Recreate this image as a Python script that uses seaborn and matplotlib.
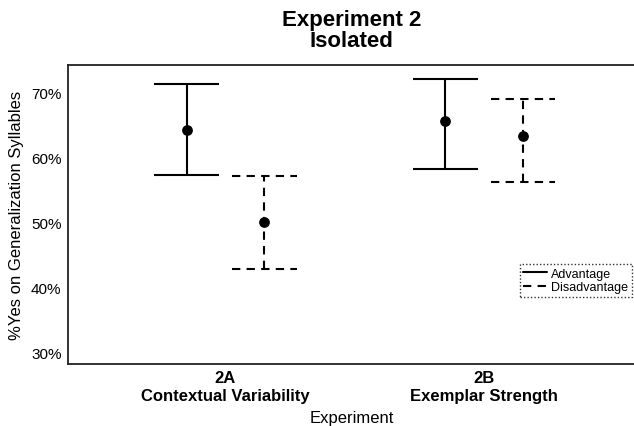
import matplotlib
matplotlib.use("Agg")
import matplotlib.pyplot as plt
from matplotlib.lines import Line2D
import seaborn as sns
import pandas as pd
import numpy as np

experiments = ["2A\nContextual Variability", "2B\nExemplar Strength"]
conditions = ["Advantage", "Disadvantage"]
mean_adv = [64.3, 65.6]
low_adv = [57.3, 58.3]
high_adv = [71.3, 72.2]
mean_dis = [50.0, 63.3]
low_dis = [42.85, 56.3]
high_dis = [57.1, 69.0]
yticks = [30, 40, 50, 60, 70]

sns.set_style("white")
plt.rcParams['font.family'] = ['Liberation Sans', 'DejaVu Sans']
plt.rcParams['text.color'] = 'black'
plt.rcParams['axes.labelcolor'] = 'black'
plt.rcParams['xtick.color'] = '#333333'
plt.rcParams['ytick.color'] = '#333333'
plt.rcParams['xtick.labelcolor'] = 'black'
plt.rcParams['ytick.labelcolor'] = 'black'

rows = []
for i, e in enumerate(experiments):
    rows.append(dict(exp=e, idx=i, cond="Advantage", mean=mean_adv[i], lo=low_adv[i], hi=high_adv[i]))
    rows.append(dict(exp=e, idx=i, cond="Disadvantage", mean=mean_dis[i], lo=low_dis[i], hi=high_dis[i]))
df = pd.DataFrame(rows)
dodge = 0.15
df["x"] = df["idx"] + np.where(df["cond"] == "Advantage", -dodge, dodge)

fig = plt.figure(figsize=(6.34, 4.27), dpi=100)
ax = fig.add_axes([0.107, 0.1452, 0.8955, 0.7002])

styles = {"Advantage": "solid", "Disadvantage": (0, (4, 3))}
capw = 0.125
for _, r in df.iterrows():
    ls = styles[r["cond"]]
    ax.vlines(r["x"], r["lo"], r["hi"], colors="black", linestyles=ls, lw=1.5)
    ax.hlines([r["lo"], r["hi"]], r["x"] - capw, r["x"] + capw, colors="black", linestyles=ls, lw=1.5)

sns.scatterplot(data=df, x="x", y="mean", color="black", s=60, edgecolor="black",
                linewidth=0, ax=ax, legend=False, zorder=5)

ax.set_xlim(-0.6085, 1.585)
ax.set_ylim(28.15, 74.3)
ax.set_xticks(range(len(experiments)))
ax.set_xticklabels(experiments, fontsize=12, fontweight="bold", linespacing=1.2)
ax.set_yticks(yticks)
ax.set_yticklabels([f"{t}%" for t in yticks], fontsize=11)
ax.tick_params(axis="both", direction="out", length=3.5, width=1, pad=1)
ax.set_xlabel("Experiment", fontsize=12, labelpad=5)
ax.set_ylabel("%Yes on Generalization Syllables", fontsize=12, labelpad=5)
ax.set_title("Experiment 2\nIsolated", fontsize=16, fontweight="bold", pad=14, linespacing=1.0)

for s in ["top", "bottom", "left"]:
    ax.spines[s].set_visible(True)
    ax.spines[s].set_color("#222222")
    ax.spines[s].set_linewidth(1.3)
ax.spines["right"].set_visible(False)

handles = [Line2D([0], [0], color="black", lw=1.5, linestyle="solid"),
           Line2D([0], [0], color="black", lw=1.5, linestyle=(0, (4, 3)))]
leg = ax.legend(handles, conditions, loc="lower right", bbox_to_anchor=(0.993, 0.225),
                fontsize=9, frameon=True, fancybox=False, handlelength=1.9,
                handletextpad=0.3, borderpad=0.3, labelspacing=0.1, borderaxespad=0)
leg.get_frame().set_linestyle((0, (1, 1.5)))
leg.get_frame().set_edgecolor("black")
leg.get_frame().set_linewidth(1.0)

fig.savefig("out.png", dpi=100)
